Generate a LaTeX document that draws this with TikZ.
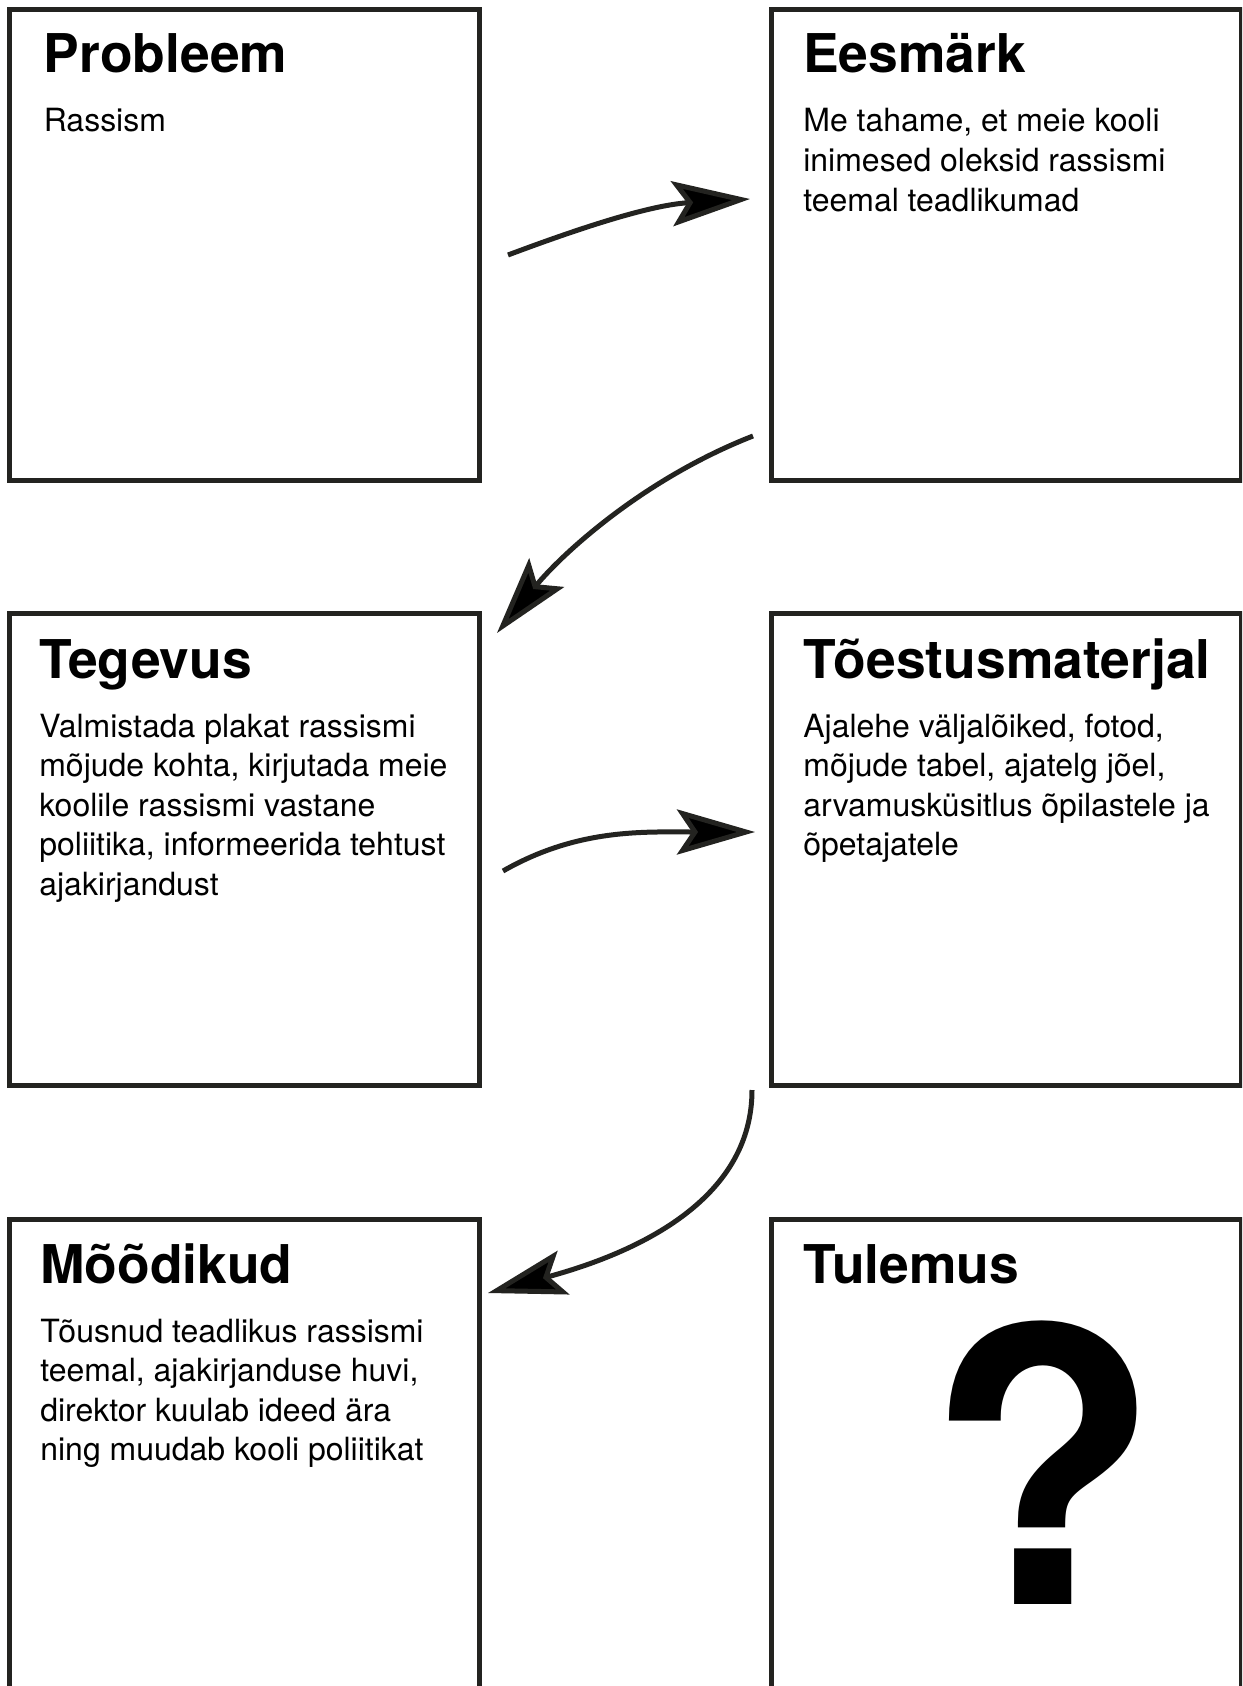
\documentclass[tikz,border=0pt]{standalone}
\usepackage{fontspec}
\setmainfont{TeX Gyre Heros}
\usetikzlibrary{arrows.meta}
\definecolor{ink}{RGB}{35,35,32}
\newcommand{\bodytext}[1]{\begin{tabular}[t]{@{}l@{}}#1\end{tabular}}
\begin{document}
\begin{tikzpicture}[x=0.02cm,y=-0.02cm,
  box/.style={draw=ink, line width=0.1cm, rectangle, inner sep=0pt, outer sep=0pt,
              minimum width=9.42cm, minimum height=9.44cm},
  boxtitle/.style={anchor=base west, inner sep=0pt, font=\fontsize{30.4}{31}\selectfont\bfseries},
  boxbody/.style={anchor=base west, inner sep=0pt, font=\fontsize{18.2}{22.5}\selectfont},
  link/.style={draw=ink, line width=0.1cm,
               -{Stealth[length=1.56cm,width=0.9cm,inset=0.3cm,fill=black]}}]
\useasboundingbox (0,0) rectangle (1242,1686);
\clip (0,0) rectangle (1242,1686);
\fill[white] (0,0) rectangle (1242,1686);

% boxes
\node[box] (b1) at (244.5,245) {};
\node[box] (b2) at (1006.5,245) {};
\node[box] (b3) at (244.5,849.5) {};
\node[box] (b4) at (1006.5,849.5) {};
\node[box, minimum height=9.61cm] (b5) at (244.5,1459.75) {};
\node[box, minimum height=9.61cm] (b6) at (1006.5,1459.75) {};

% texts
\node[boxtitle] (t1) at (43.5,73) {Probleem};
\node[boxbody] (x1) at (43.5,132) {\bodytext{Rassism}};

\node[boxtitle] (t2) at (803,73) {Eesmärk};
\node[boxbody] (x2) at (803,132) {\bodytext{Me tahame, et meie kooli\\inimesed oleksid rassismi\\teemal teadlikumad}};

\node[boxtitle] (t3) at (39,678) {Tegevus};
\node[boxbody] (x3) at (39,737) {\bodytext{Valmistada plakat rassismi\\mõjude kohta, kirjutada meie\\koolile rassismi vastane\\poliitika, informeerida tehtust\\ajakirjandust}};

\node[boxtitle] (t4) at (803,678) {Tõestusmaterjal};
\node[boxbody] (x4) at (803,737) {\bodytext{Ajalehe väljalõiked, fotod,\\mõjude tabel, ajatelg jõel,\\arvamusküsitlus õpilastele ja\\õpetajatele}};

\node[boxtitle] (t5) at (40,1283) {Mõõdikud};
\node[boxbody] (x5) at (40,1342) {\bodytext{Tõusnud teadlikus rassismi\\teemal, ajakirjanduse huvi,\\direktor kuulab ideed ära\\ning muudab kooli poliitikat}};

\node[boxtitle] (t6) at (803,1283) {Tulemus};
\node[anchor=base, inner sep=0pt, font=\fontsize{217}{217}\selectfont\bfseries] (q) at (1042.5,1604) {?};

% connectors
\coordinate (a1s) at (508,255);
\coordinate (a1e) at (750,199);
\coordinate (a2s) at (753,436);
\coordinate (a2e) at (497,633);
\coordinate (a3s) at (503,871);
\coordinate (a3e) at (755,832);
\coordinate (a4s) at (752,1090);
\coordinate (a4e) at (488,1293);

\draw[link] (a1s) .. controls (580,228) and (650,205) .. (a1e);
\draw[link] (a2s) .. controls (643,479) and (562,554) .. (a2e);
\draw[link] (a3s) .. controls (578,828) and (645,832) .. (a3e);
\draw[link] (a4s) .. controls (752,1195) and (647,1250) .. (a4e);
\end{tikzpicture}
\end{document}
